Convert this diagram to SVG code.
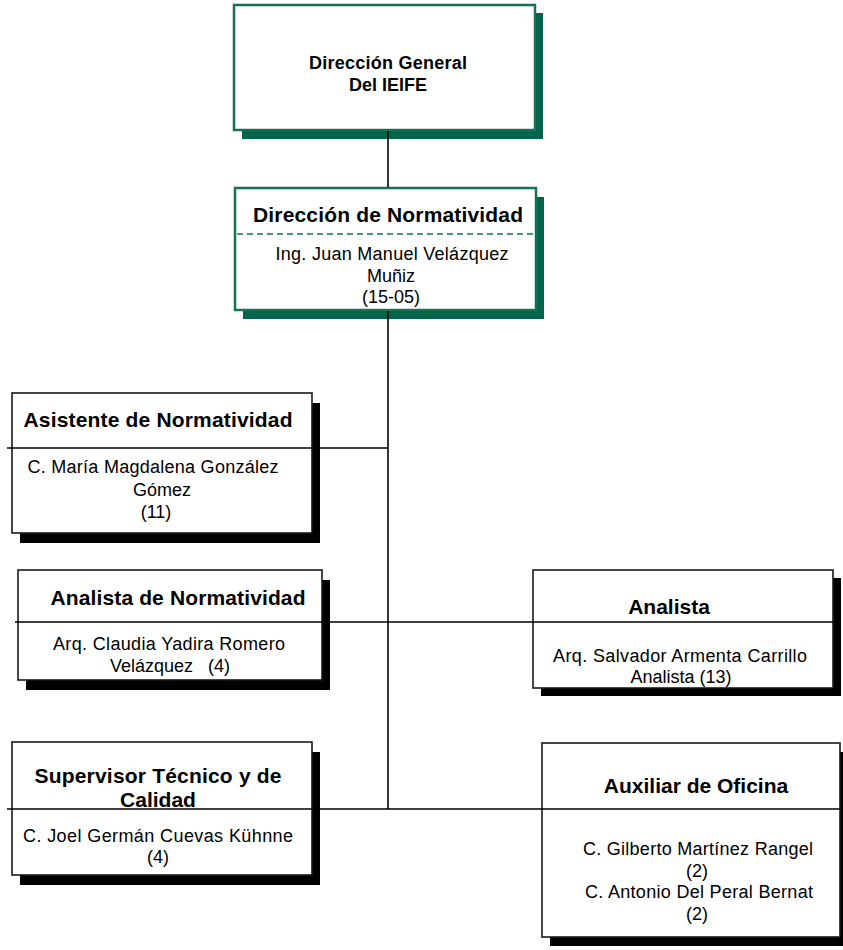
<svg xmlns="http://www.w3.org/2000/svg" width="843" height="950" viewBox="0 0 843 950">
<style>
text{font-family:"Liberation Sans",Arial,sans-serif;fill:#000;text-anchor:middle}
.t{font-weight:bold;font-size:21px}
.h{font-weight:bold;font-size:18px}
.b{font-size:18px}
.g{fill:#fff;stroke:#157255;stroke-width:2.5}
.gs{fill:#00654b}
.k{fill:#fff;stroke:#1a1a1a;stroke-width:1.6}
.ks{fill:#000}
.c{stroke:#000;stroke-width:1.6;fill:none}
</style>
<g id="direccion-general">
<rect class="gs" x="242" y="13" width="301" height="126"/>
<rect class="g" x="234" y="5" width="301" height="125"/>
<text class="h" x="388" y="69" textLength="158" lengthAdjust="spacing">Dirección General</text>
<text class="h" x="388" y="91">Del IEIFE</text>
</g>
<g id="direccion-normatividad">
<rect class="gs" x="243" y="197" width="301" height="122"/>
<rect class="g" x="235" y="188" width="301" height="122"/>
<line x1="237" y1="234" x2="534" y2="234" stroke="#157255" stroke-width="1.6" stroke-dasharray="6,4"/>
<text class="t" x="388" y="222" textLength="270" lengthAdjust="spacing">Dirección de Normatividad</text>
<text class="b" x="392" y="260" textLength="233" lengthAdjust="spacing">Ing. Juan Manuel Velázquez</text>
<text class="b" x="391" y="282">Muñiz</text>
<text class="b" x="391" y="303">(15-05)</text>
</g>
<g id="asistente">
<rect class="ks" x="20" y="403" width="300" height="140"/>
<rect class="k" x="12" y="393" width="300" height="140"/>
<text class="t" x="158" y="427" textLength="269" lengthAdjust="spacing">Asistente de Normatividad</text>
<text class="b" x="153" y="473" textLength="251" lengthAdjust="spacing">C. María Magdalena González</text>
<text class="b" x="162" y="496">Gómez</text>
<text class="b" x="156" y="518">(11)</text>
</g>
<g id="analista-normatividad">
<rect class="ks" x="26" y="580" width="304" height="110"/>
<rect class="k" x="18" y="570" width="304" height="110"/>
<text class="t" x="178" y="605" textLength="255" lengthAdjust="spacing">Analista de Normatividad</text>
<text class="b" x="169" y="650" textLength="232" lengthAdjust="spacing">Arq. Claudia Yadira Romero</text>
<text class="b" x="170" y="672" xml:space="preserve">Velázquez   (4)</text>
</g>
<g id="analista">
<rect class="ks" x="541" y="578" width="300" height="118"/>
<rect class="k" x="533" y="570" width="300" height="118"/>
<text class="t" x="669" y="614">Analista</text>
<text class="b" x="680" y="662" textLength="254" lengthAdjust="spacing">Arq. Salvador Armenta Carrillo</text>
<text class="b" x="681" y="683">Analista (13)</text>
</g>
<g id="supervisor">
<rect class="ks" x="20" y="752" width="300" height="133"/>
<rect class="k" x="12" y="742" width="300" height="133"/>
<text class="t" x="158" y="783" textLength="247" lengthAdjust="spacing">Supervisor Técnico y de</text>
<text class="t" x="158" y="807">Calidad</text>
<text class="b" x="158" y="842" textLength="270" lengthAdjust="spacing">C. Joel Germán Cuevas Kühnne</text>
<text class="b" x="158" y="863">(4)</text>
</g>
<g id="auxiliar">
<rect class="ks" x="550" y="752" width="298" height="194"/>
<rect class="k" x="542" y="743" width="298" height="194"/>
<text class="t" x="696" y="793">Auxiliar de Oficina</text>
<text class="b" x="698" y="855" textLength="230" lengthAdjust="spacing">C. Gilberto Martínez Rangel</text>
<text class="b" x="697" y="877">(2)</text>
<text class="b" x="699" y="898" textLength="228" lengthAdjust="spacing">C. Antonio Del Peral Bernat</text>
<text class="b" x="697" y="920">(2)</text>
</g>
<g id="connectors">
<line class="c" x1="388" y1="131" x2="388" y2="187"/>
<line class="c" x1="388" y1="311" x2="388" y2="809"/>
<line class="c" x1="7" y1="448" x2="388" y2="448"/>
<line class="c" x1="15" y1="622" x2="833" y2="622"/>
<line class="c" x1="7" y1="809" x2="840" y2="809"/>
</g>
</svg>
